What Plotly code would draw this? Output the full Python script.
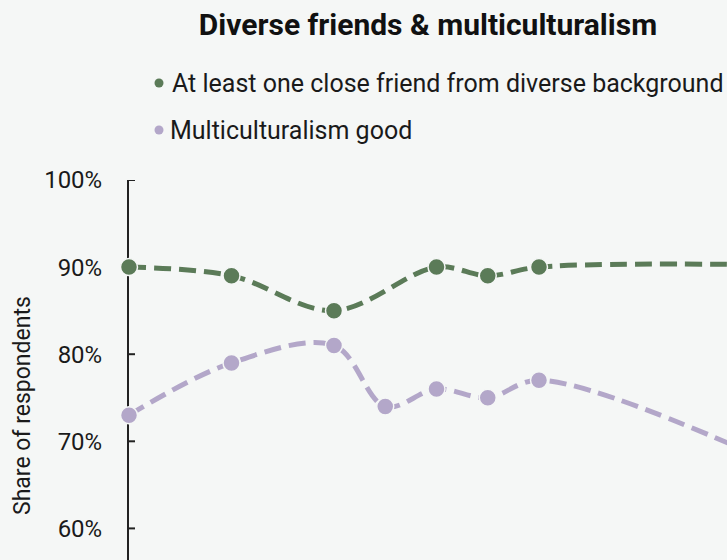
import plotly.graph_objects as go

years = [2010, 2012, 2014, 2015, 2016, 2017, 2018, 2022]
friend_share = [90, 89, 85, None, 90, 89, 90, 90.3]
multicult_good = [73, 79, 81, 74, 76, 75, 77, 69]

series_names = ["At least one close friend from diverse background", "Multiculturalism good"]
y_ticks = [60, 70, 80, 90, 100]
y_tick_labels = ["60%", "70%", "80%", "90%", "100%"]

GREEN = "#5b7b58"
PURPLE = "#b3a7c9"
BG = "#f5f7f6"
FONT = "Roboto"
TXT = "#1a1a1a"
AXIS = "#222"

# plot-area geometry in pixels (for placing legend / labels outside the plot)
PL, PR, PT, PB = 129, 727, 180, 560


def px_x(px):
    return (px - PL) / (PR - PL)


def px_y(py):
    return (PB - py) / (PB - PT)


fig = go.Figure()
for name, vals, color in zip(series_names, [friend_share, multicult_good], [GREEN, PURPLE]):
    fig.add_trace(go.Scatter(
        x=years, y=vals, mode="lines+markers", name=name, showlegend=False,
        connectgaps=True, cliponaxis=False,
        line=dict(color=color, width=5, shape="spline", dash="17px,8px"),
        marker=dict(color=color, size=17, line=dict(color=BG, width=1.5)),
    ))

# inward tick marks on the y axis (drawn beneath the data)
for t in y_ticks:
    fig.add_shape(type="line", xref="paper", yref="y", x0=px_x(PL - 1), x1=px_x(PL + 6),
                  y0=t, y1=t, layer="below", line=dict(color=AXIS, width=2))

# custom legend: small dots + labels
legend_rows = [(83, 172, GREEN), (130, 170, PURPLE)]
for (cy, tx, color), name in zip(legend_rows, series_names):
    fig.add_shape(type="circle", xref="paper", yref="paper",
                  x0=px_x(159 - 4.5), x1=px_x(159 + 4.5), y0=px_y(cy + 4.5), y1=px_y(cy - 4.5),
                  fillcolor=color, line=dict(width=0))
    fig.add_annotation(text=name, xref="paper", yref="paper", x=px_x(tx - 2), y=px_y(cy),
                       xanchor="left", yanchor="middle", showarrow=False,
                       font=dict(size=25, family=FONT, color=TXT))

fig.add_annotation(text="Share of respondents", xref="paper", yref="paper",
                   x=px_x(22), y=px_y(406), xanchor="center", yanchor="middle",
                   textangle=-90, showarrow=False, font=dict(size=23, family=FONT, color=TXT))

fig.update_layout(
    width=727, height=560,
    paper_bgcolor=BG, plot_bgcolor=BG,
    margin=dict(l=PL, r=727 - PR, t=PT, b=560 - PB, autoexpand=False),
    font=dict(family=FONT, color=TXT, size=22),
    showlegend=False,
    title=dict(text="<b>Diverse friends & multiculturalism</b>", x=0.5, xref="paper",
               y=1 - 24 / 560, yref="container", yanchor="middle", xanchor="center",
               font=dict(size=30, family=FONT, color="#111")),
    xaxis=dict(range=[2010, 2010 + (PR - PL) / 51.25], visible=False, showgrid=False, zeroline=False),
    yaxis=dict(range=[100 - (PB - PT) / 8.71, 100], tickvals=y_ticks, ticktext=y_tick_labels,
               showgrid=False, zeroline=False, showline=True, linecolor=AXIS, linewidth=2,
               ticks="", ticklabelstandoff=20,
               tickfont=dict(size=24, family=FONT, color=TXT), layer="below traces",
               automargin=False),
)

fig.write_html("out.html", config={"displayModeBar": False},
               post_script="document.body.style.margin='0';document.body.style.background='%s';" % BG)
